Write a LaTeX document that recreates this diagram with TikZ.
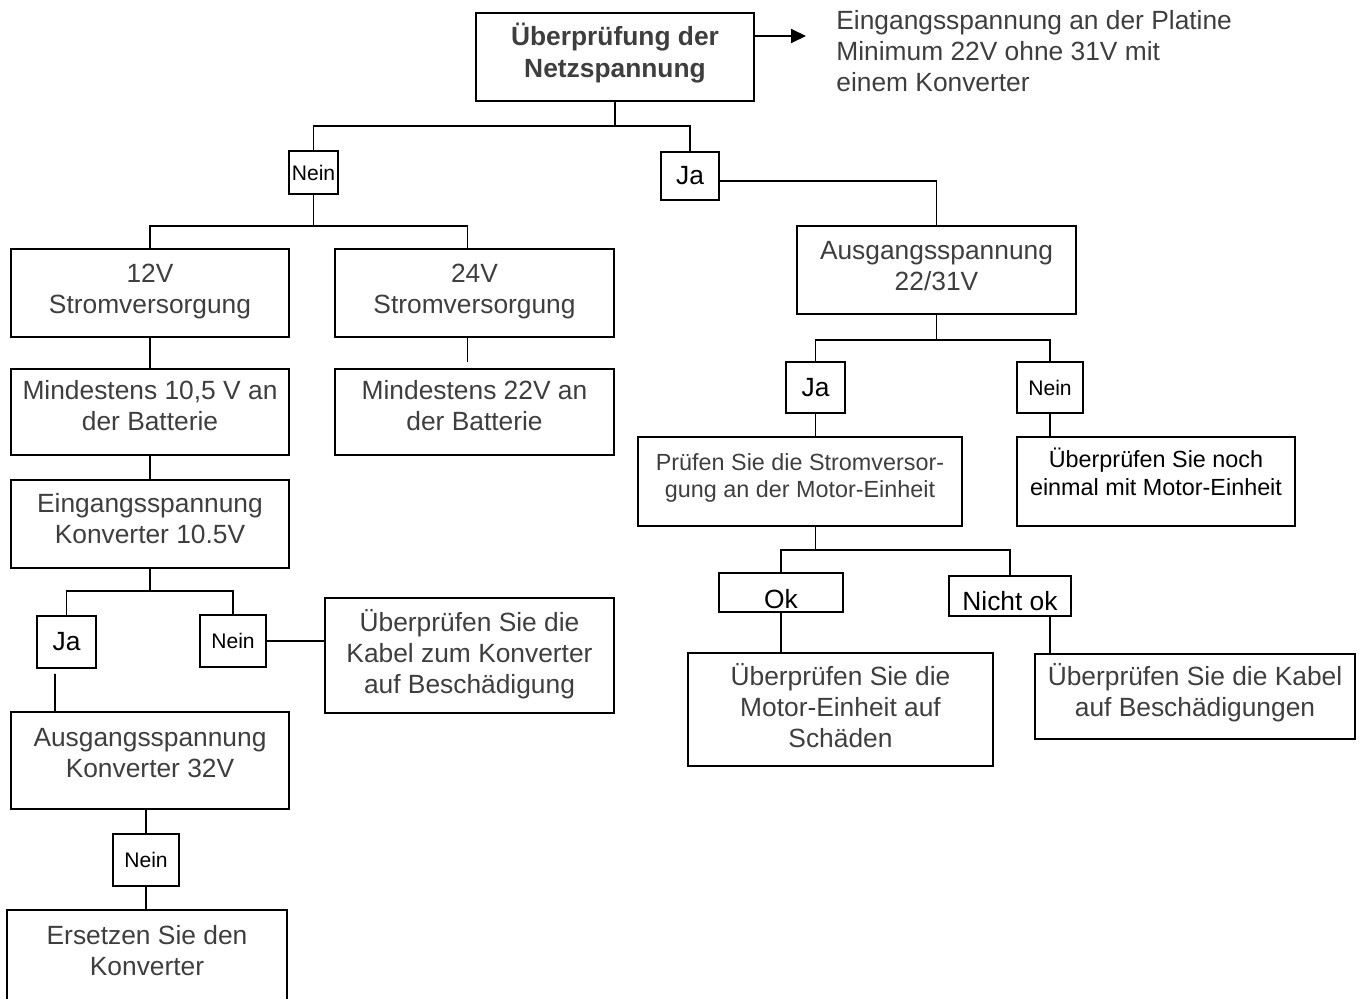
\documentclass[tikz,border=0pt]{standalone}
\usepackage{fontspec}
\setmainfont{Liberation Sans}
\usetikzlibrary{arrows.meta}
\definecolor{ink}{RGB}{62,62,62}
% zero-width struts that move the text of a box up / down
\newcommand{\lift}[1]{\rule[-#1]{0pt}{#1}}
\newcommand{\drop}[1]{\rule{0pt}{#1}}
\tikzset{
  box/.style={draw=black, line width=1.1pt, align=center, inner sep=0pt, text=ink,
              font=\fontsize{15}{17.6}\selectfont},
  small/.style={font=\fontsize{13.3}{15.7}\selectfont},
  tag/.style={draw=black, line width=1.1pt, inner sep=0pt, text=black,
              font=\fontsize{15}{17.6}\selectfont},
  smalltag/.style={tag, font=\fontsize{12}{14}\selectfont},
  note/.style={align=left, inner sep=0pt, text=ink, font=\fontsize{15}{17.6}\selectfont},
  wire/.style={line width=1.1pt, draw=black},
  arr/.style={-{Triangle[length=0.3cm, width=0.28cm]}, line width=1.1pt, draw=black},
}

\begin{document}
\begin{tikzpicture}[x=0.02cm, y=-0.02cm]
  \useasboundingbox (0,0) rectangle (1362,998);

  \node[box, font=\fontsize{15}{18.2}\selectfont\bfseries, minimum width=5.56cm, minimum height=1.76cm] (chk) at (615,57)
    {Überprüfung der\\Netzspannung\lift{7.8pt}};
  \node[note, anchor=west] (note) at (836,51)
    {Eingangsspannung an der Platine\\Minimum 22V ohne 31V mit\\einem Konverter};

  \node[smalltag, minimum width=0.98cm, minimum height=0.86cm] (nein1) at (313.5,172.5) {Nein};
  \node[tag, minimum width=1.16cm, minimum height=0.96cm] (ja1) at (690,176) {Ja};

  % linker Zweig
  \node[box, minimum width=5.56cm, minimum height=1.76cm] (v12) at (150,293) {12V\\Stromversorgung\lift{5.1pt}};
  \node[box, minimum width=5.58cm, minimum height=1.76cm] (v24) at (474.5,293) {24V\\Stromversorgung\lift{5.1pt}};
  \node[box, minimum width=5.56cm, minimum height=1.72cm] (min12) at (150,412) {Mindestens 10,5 V an\\der Batterie\lift{7.4pt}};
  \node[box, minimum width=5.58cm, minimum height=1.72cm] (min24) at (474.5,412) {Mindestens 22V an\\der Batterie\lift{7.4pt}};
  \node[box, minimum width=5.56cm, minimum height=1.76cm] (eink) at (150,524) {Eingangsspannung\\Konverter 10.5V\lift{6.3pt}};
  \node[tag, minimum width=1.18cm, minimum height=1.04cm] (ja2) at (66.5,642) {Ja};
  \node[smalltag, minimum width=1.32cm, minimum height=1.04cm] (nein2) at (233,641) {Nein};
  \node[box, minimum width=5.78cm, minimum height=2.30cm] (kabk) at (469.5,655.5)
    {Überprüfen Sie die\\Kabel zum Konverter\\auf Beschädigung\lift{4.9pt}};
  \node[box, minimum width=5.56cm, minimum height=1.94cm] (ausk) at (150,760.5) {Ausgangsspannung\\Konverter 32V\lift{9.1pt}};
  \node[smalltag, minimum width=1.32cm, minimum height=1.04cm] (nein3) at (146,860) {Nein};
  \node[box, minimum width=5.60cm, minimum height=2.00cm] (ersk) at (147,960) {Ersetzen Sie den\\Konverter\lift{11.4pt}};

  % rechter Zweig
  \node[box, minimum width=5.58cm, minimum height=1.76cm] (aus22) at (936.5,270) {Ausgangsspannung\\22/31V\lift{5.1pt}};
  \node[tag, minimum width=1.18cm, minimum height=1.02cm] (ja3) at (815.5,387.5) {Ja};
  \node[smalltag, minimum width=1.32cm, minimum height=1.02cm] (nein4) at (1050,387.5) {Nein};
  \node[box, small, minimum width=6.48cm, minimum height=1.78cm] (prf) at (800,481.5)
    {Prüfen Sie die Stromversor-\\gung an der Motor-Einheit\lift{6.8pt}};
  \node[box, small, text=black, minimum width=5.56cm, minimum height=1.78cm] (noch) at (1156,481.5)
    {Überprüfen Sie noch\\einmal mit Motor-Einheit\lift{10.9pt}};
  \node[tag, minimum width=2.48cm, minimum height=0.78cm] (ok) at (781,592.5) {\drop{18pt}Ok};
  \node[tag, minimum width=2.44cm, minimum height=0.80cm] (nok) at (1010,596) {\drop{16.4pt}Nicht ok};
  \node[box, minimum width=6.10cm, minimum height=2.26cm] (schad) at (840.5,709.5)
    {Überprüfen Sie die\\Motor-Einheit auf\\Schäden\lift{4.4pt}};
  \node[box, minimum width=6.40cm, minimum height=1.70cm] (kaba) at (1195,696.5)
    {Überprüfen Sie die Kabel\\auf Beschädigungen\lift{7.7pt}};

  \coordinate (tip) at (806,36);
  \draw[arr] (chk.east |- tip) -- (tip);

  \draw[wire] (chk.south) -- ++(0,24) coordinate (s1);
  \draw[wire] (nein1.north) |- (s1) -| (ja1.north);

  \draw[wire] (nein1.south) -- ++(0,31) coordinate (s2);
  \draw[wire] (v12.north) |- (s2) -| ([xshift=-0.14cm]v24.north);
  \draw[wire] (v12.south) -- (min12.north);
  \draw[wire] ([xshift=-0.14cm]v24.south) -- ([xshift=-0.14cm,yshift=0.12cm]min24.north);
  \draw[wire] (min12.south) -- (eink.north);
  \draw[wire] (eink.south) -- ++(0,22) coordinate (s3);
  \draw[wire] (ja2.north) |- (s3) -| (nein2.north);
  \draw[wire] (nein2.east) -- (nein2.east -| kabk.west);
  \draw[wire] ([xshift=-0.23cm,yshift=-0.1cm]ja2.south) -- ([xshift=-1.9cm]ausk.north);
  \draw[wire] (nein3.north |- ausk.south) -- (nein3.north);
  \draw[wire] (nein3.south) -- (nein3.south |- ersk.north);

  \draw[wire] ([yshift=-0.1cm]ja1.east) -| (aus22.north);
  \draw[wire] (aus22.south) -- ++(0,25) coordinate (s4);
  \draw[wire] (ja3.north) |- (s4) -| (nein4.north);
  \draw[wire] (ja3.south) -- (ja3.south |- prf.north);
  \draw[wire] (nein4.south) -- (nein4.south |- noch.north);
  \draw[wire] (ja3.south |- prf.south) -- ++(0,23) coordinate (s5);
  \draw[wire] (ok.north) |- (s5) -| (nok.north);
  \draw[wire] (ok.south) -- (ok.south |- schad.north);
  \draw[wire] ([xshift=-2.9cm]kaba.north) -- ++(0,-38);
\end{tikzpicture}
\end{document}
